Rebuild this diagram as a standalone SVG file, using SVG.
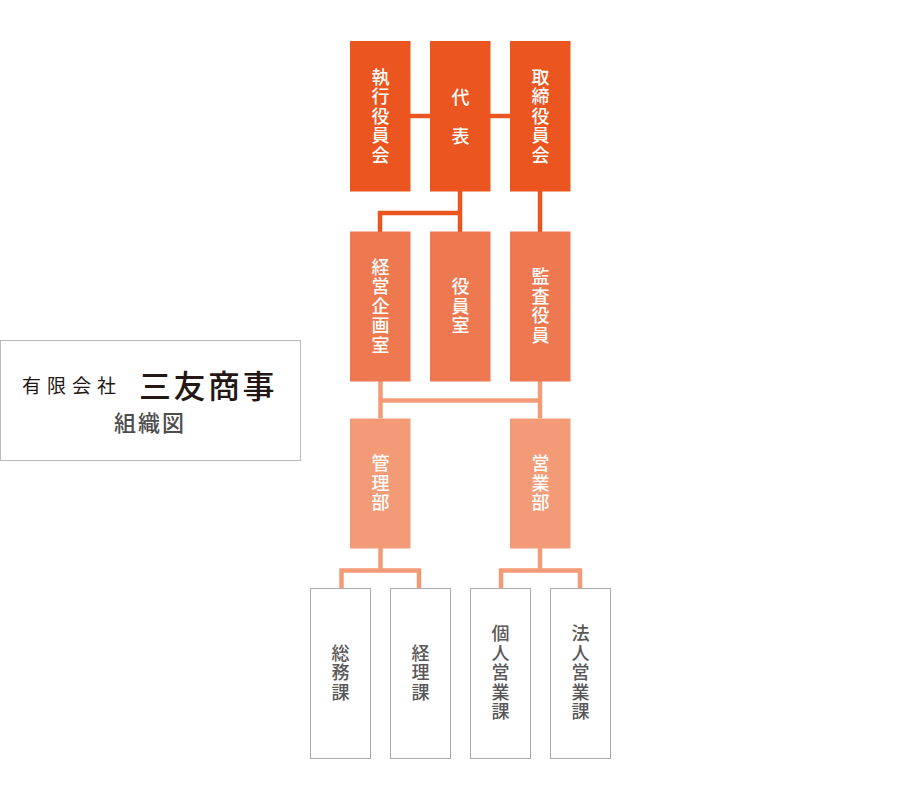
<svg xmlns="http://www.w3.org/2000/svg" width="920" height="800" viewBox="0 0 920 800">
<style>
text{font-family:"Noto Sans CJK JP","Noto Sans",sans-serif;text-anchor:middle}
.l,.d{font-size:18px;font-weight:500;writing-mode:vertical-rl;letter-spacing:1.500px}
.l{fill:#fff}
.d{fill:#595757}
.a{fill:#ea5520}.b{fill:#ee7950}.c{fill:#f39b77}
.w{fill:#fff;stroke:#aaa;stroke-width:1}
.la,.lc{fill:none;stroke-width:4.500}
.la{stroke:#ea5520}.lc{stroke:#f39b77}
</style>
<g id="connectors">
<path class="la" d="M410 116H510M460 191V232M460 213H380V232M540 191V232"/>
<path class="lc" d="M380.500 381V418.500M540 381V418.500M380.500 400.500H540"/>
<path class="lc" d="M380.500 548V570.500M341.500 588V570.500H419V588M540 548V570.500M501 588V570.500H580V588"/>
</g>
<g id="title">
<rect x="0.500" y="340.500" width="300" height="120" fill="#fff" stroke="#bbb"/>
<text x="72" y="392.500" font-size="19" letter-spacing="6" fill="#231815" style="font-weight:400">有限会社</text>
<text x="208" y="398" font-size="32" letter-spacing="2.500" fill="#231815" style="font-weight:500">三友商事</text>
<text x="150" y="431" font-size="22" letter-spacing="2" fill="#4d4d4d" style="font-weight:500">組織図</text>
</g>
<g id="n-shikko"><rect class="a" x="350" y="41" width="60.500" height="150.500"/><text class="l" x="380.500" y="116.500">執行役員会</text></g>
<g id="n-daihyo"><rect class="a" x="430" y="41" width="60.500" height="150.500"/><text class="l" x="460.500" y="127" style="letter-spacing:21px">代表</text></g>
<g id="n-torishimari"><rect class="a" x="510" y="41" width="60.500" height="150.500"/><text class="l" x="540.500" y="116.500">取締役員会</text></g>
<g id="n-keiei"><rect class="b" x="350" y="231.500" width="60.500" height="150"/><text class="l" x="380.500" y="306.500">経営企画室</text></g>
<g id="n-yakuin"><rect class="b" x="430" y="231.500" width="60.500" height="150"/><text class="l" x="460.500" y="306.500">役員室</text></g>
<g id="n-kansa"><rect class="b" x="510" y="231.500" width="60.500" height="150"/><text class="l" x="540.500" y="306.500">監査役員</text></g>
<g id="n-kanri"><rect class="c" x="350" y="418.500" width="60.500" height="130"/><text class="l" x="380.500" y="483.500">管理部</text></g>
<g id="n-eigyo"><rect class="c" x="510" y="418.500" width="60.500" height="130"/><text class="l" x="540.500" y="483.500">営業部</text></g>
<g id="n-somu"><rect class="w" x="310.500" y="588.500" width="60" height="170"/><text class="d" x="340.500" y="673">総務課</text></g>
<g id="n-keiri"><rect class="w" x="390.500" y="588.500" width="60" height="170"/><text class="d" x="420.500" y="673">経理課</text></g>
<g id="n-kojin"><rect class="w" x="470.500" y="588.500" width="60" height="170"/><text class="d" x="500.500" y="673">個人営業課</text></g>
<g id="n-hojin"><rect class="w" x="550.500" y="588.500" width="60" height="170"/><text class="d" x="580.500" y="673">法人営業課</text></g>
</svg>
